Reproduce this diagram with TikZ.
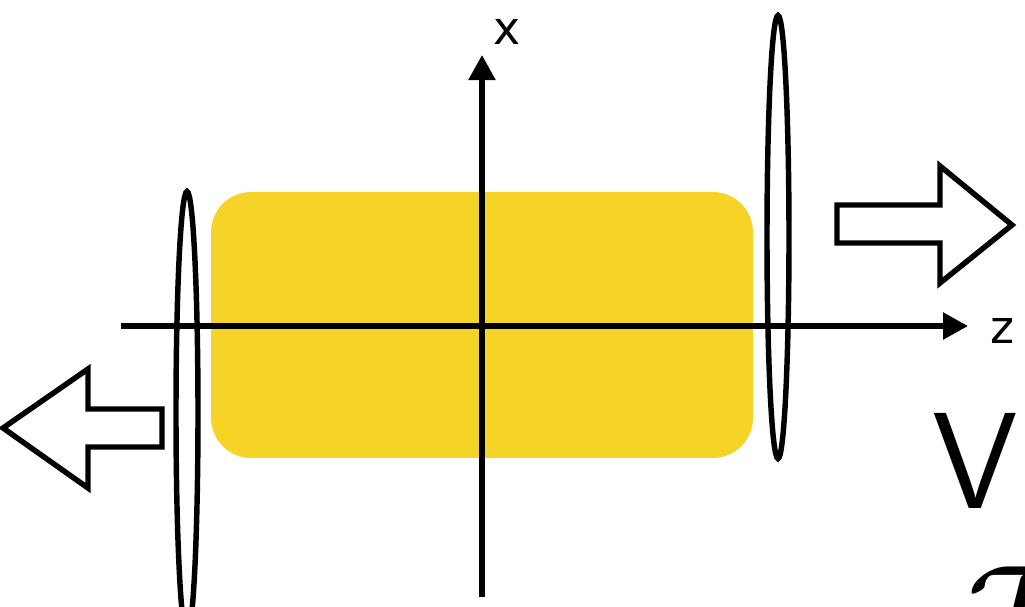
\documentclass[tikz,border=0pt]{standalone}
\usepackage{amsmath}
\usepackage{xcolor}
\usepackage{fontspec}
\setmainfont{DejaVu Sans}
\setsansfont{Latin Modern Sans}
\usepackage{tikz}
\usetikzlibrary{positioning, arrows.meta, shapes.geometric}
\definecolor{cloudyellow}{HTML}{F5D327}

\begin{document}
\begin{tikzpicture}[
    x=0.02cm, y=-0.02cm,
    cloud/.style={rectangle, fill=cloudyellow, rounded corners=0.8cm, minimum width=10.84cm, minimum height=5.32cm, inner sep=0pt},
    lens/.style={ellipse, draw, line width=3.1pt, minimum width=0.44cm, minimum height=8.86cm, inner sep=0pt},
    axis/.style={-{Triangle[length=0.5cm, width=0.52cm]}, line width=3.1pt},
    flow/.style={draw, line width=3.1pt, miter limit=10},
    lab/.style={font=\fontsize{26}{30}\selectfont, inner sep=0pt},
    big/.style={font=\sffamily\fontsize{78}{90}\selectfont, inner sep=0pt},
]
\useasboundingbox (0, 0) rectangle (1025, 606);

% Cloud
\node[cloud] (cloud) at (482, 325) {};

% Lenses
\node[lens] (lensl) at (187, 413) {};
\node[lens] (lensr) at (778, 237) {};

% Axes
\coordinate (zstart) at (121, 326);
\coordinate (zend) at (968, 326);
\coordinate (xstart) at (482, 597);
\coordinate (xend) at (482, 55);
\draw[axis] (zstart) -- (zend);
\draw[axis] (xstart) -- (xend);
\node[lab] (zlabel) at (1002, 331) {z};
\node[lab] (xlabel) at (507, 32) {x};

% Block arrows
\draw[flow] (837, 205) -- (940, 205) -- (940, 166) -- (1012, 225) -- (940, 283) -- (940, 243) -- (837, 243) -- cycle;
\draw[flow] (162, 409) -- (88, 409) -- (88, 369) -- (3, 428) -- (88, 488) -- (88, 447) -- (162, 447) -- cycle;

% Cut off labels
\node[big] (vlabel) at (975, 461) {V};
\node[scale=3.1, transform shape, font=\fontsize{25}{30}\selectfont, inner sep=0pt, anchor=north west] (tlabel) at (966, 566) {$\mathcal{T}$};

\end{tikzpicture}
\end{document}
